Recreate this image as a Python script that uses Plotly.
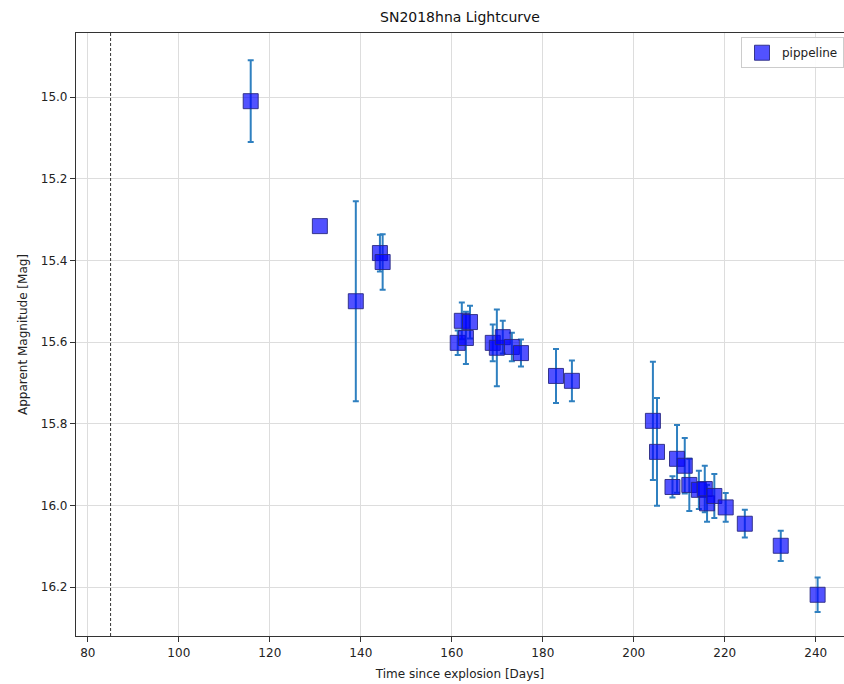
import plotly.graph_objects as go

days = [115.8, 131.0, 138.9, 144.2, 144.8,
        161.3, 162.2, 164.0, 163.1,
        169.0, 169.9, 171.2, 173.2, 175.2,
        182.9, 186.4,
        204.2, 205.1, 209.5, 211.2, 208.5, 212.2, 214.3, 215.6, 216.1, 217.7, 220.2,
        224.4, 232.3, 240.4]
mags = [15.01, 15.316, 15.50, 15.382, 15.404,
        15.602, 15.548, 15.551, 15.590,
        15.602, 15.614, 15.588, 15.612, 15.627,
        15.683, 15.695,
        15.793, 15.869, 15.886, 15.903, 15.955, 15.950, 15.962, 15.960, 15.995, 15.977, 16.005,
        16.045, 16.099, 16.219]
errs = [0.10, 0.0, 0.245, 0.045, 0.068,
        0.03, 0.045, 0.04, 0.064,
        0.045, 0.094, 0.04, 0.035, 0.033,
        0.066, 0.05,
        0.145, 0.132, 0.083, 0.068, 0.026, 0.064, 0.047, 0.057, 0.045, 0.054, 0.035,
        0.034, 0.037, 0.042]
explosion_offset = 85.0

marker_style = dict(symbol="square", size=15, color="rgba(0,0,255,0.68)",
                    line=dict(color="rgba(40,40,130,0.9)", width=1))
with_err = [i for i, e in enumerate(errs) if e > 0]
no_err = [i for i, e in enumerate(errs) if e <= 0]

fig = go.Figure()
fig.add_trace(go.Scatter(
    x=[days[i] for i in with_err], y=[mags[i] for i in with_err],
    mode="markers", name="pippeline", marker=marker_style,
    error_y=dict(type="data", array=[errs[i] for i in with_err], visible=True,
                 color="#2f80c0", thickness=2, width=3),
))
fig.add_trace(go.Scatter(
    x=[days[i] for i in no_err], y=[mags[i] for i in no_err],
    mode="markers", name="pippeline", marker=marker_style, showlegend=False,
))
fig.add_shape(type="line", xref="x", yref="paper", x0=explosion_offset, x1=explosion_offset,
              y0=0, y1=1, line=dict(color="#333333", width=1, dash="3px,2px"))

font = "DejaVu Sans, sans-serif"
fig.update_layout(
    width=844, height=684,
    margin=dict(l=76, r=0, t=33, b=48),
    paper_bgcolor="white", plot_bgcolor="white",
    font=dict(family=font, size=12, color="#222222"),
    title=dict(text="SN2018hna Lightcurve", x=0.5, xref="paper", xanchor="center",
               y=1 - 17 / 684, yanchor="middle", font=dict(size=14, color="#111111")),
    showlegend=True,
    legend=dict(x=1, xanchor="right", y=0.993, yanchor="top",
                bordercolor="#cccccc", borderwidth=1, bgcolor="rgba(255,255,255,0.9)",
                font=dict(size=12, color="#222222")),
    xaxis=dict(range=[77.4, 246.2], tickvals=[80, 100, 120, 140, 160, 180, 200, 220, 240],
               showgrid=True, gridcolor="#dddddd", gridwidth=1, zeroline=False,
               showline=True, linecolor="#333333", linewidth=1.2, mirror=True,
               ticks="outside", ticklen=5, tickcolor="#333333",
               title=dict(text="Time since explosion [Days]", standoff=11, font=dict(size=12))),
    yaxis=dict(range=[16.32, 14.843], tickvals=[15.0, 15.2, 15.4, 15.6, 15.8, 16.0, 16.2],
               ticktext=["15.0", "15.2", "15.4", "15.6", "15.8", "16.0", "16.2"],
               showgrid=True, gridcolor="#dddddd", gridwidth=1, zeroline=False,
               showline=True, linecolor="#333333", linewidth=1.2, mirror=False,
               ticks="outside", ticklen=5, tickcolor="#333333",
               title=dict(text="Apparent Magnitude [Mag]", standoff=10, font=dict(size=12))),
)
fig.write_html("out.html")
